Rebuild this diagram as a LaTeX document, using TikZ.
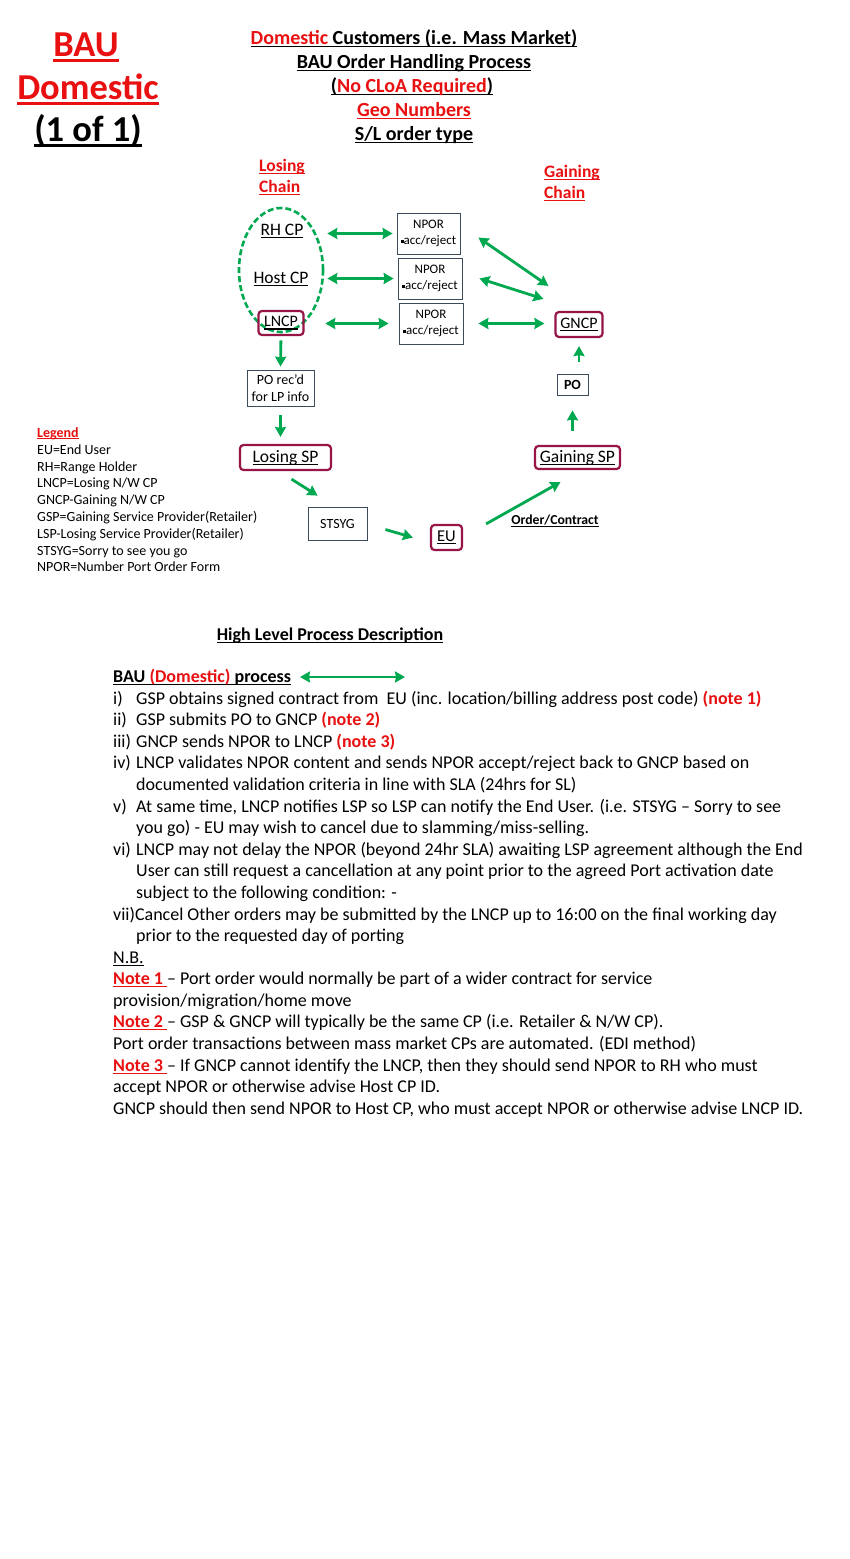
\documentclass[tikz,border=0pt]{standalone}
\usepackage{fontspec}
\setmainfont{Carlito}
\usetikzlibrary{arrows.meta}
\usetikzlibrary{shapes.geometric}
\usetikzlibrary{positioning}

\definecolor{bauRed}{RGB}{232,16,16}
\definecolor{bauGreen}{RGB}{0,168,80}
\definecolor{bauCrimson}{RGB}{150,20,70}
\definecolor{bauFrame}{RGB}{60,75,90}

\tikzset{
  tip/.style={-{Stealth[length=10pt,width=11pt,inset=1pt]}},
  link/.style={draw=bauGreen, line width=2.8pt, tip},
  twolink/.style={draw=bauGreen, line width=2.8pt, {Stealth[length=10pt,width=11pt,inset=1pt]}-{Stealth[length=10pt,width=11pt,inset=1pt]}},
  cpbox/.style={draw=bauCrimson, line width=2.2pt, rounded corners=3.5pt, inner sep=0pt, font=\fontsize{17.5}{19}\selectfont},
  npbox/.style={draw=bauFrame, line width=0.8pt, align=center, inner sep=0pt, font=\fontsize{13}{16.5}\selectfont},
  bodyline/.style={anchor=base west, inner sep=0pt, font=\fontsize{18}{21}\selectfont},
  legline/.style={anchor=base west, inner sep=0pt, font=\fontsize{14}{16}\selectfont},
  headline/.style={anchor=base, inner sep=0pt, font=\fontsize{20}{22}\selectfont\bfseries},
}
\newcommand{\sqbul}{\rule[0.3ex]{0.45ex}{0.45ex}}
\newcommand{\undl}[1]{\leavevmode\setbox0\hbox{#1}\rlap{\rule[-0.17em]{\wd0}{0.075em}}\box0}

\begin{document}
\begin{tikzpicture}[x=1pt,y=-1pt]
\useasboundingbox (0,0) rectangle (850,1559);
\fill[white] (0,0) rectangle (850,1559);

% title
\node[anchor=base, inner sep=0pt, font=\fontsize{36.5}{38}\selectfont\bfseries, text=bauRed] (tBau) at (86,56) {\undl{BAU}};
\node[anchor=base, inner sep=0pt, font=\fontsize{36.5}{38}\selectfont\bfseries, text=bauRed] (tDom) at (88,99) {\undl{Domestic}};
\node[anchor=base, inner sep=0pt, font=\fontsize{36.5}{38}\selectfont\bfseries] (tPage) at (88,141) {\undl{(1 of 1)}};

\node[headline] (h1) at (414,44) {\undl{\textcolor{bauRed}{Domestic} Customers (i.e. Mass Market)}};
\node[headline] (h2) at (414,68) {\undl{BAU Order Handling Process}};
\node[headline] (h3) at (412,92) {\undl{(\textcolor{bauRed}{No CLoA Required})}};
\node[headline, text=bauRed] (h4) at (414,116) {\undl{Geo Numbers}};
\node[headline] (h5) at (414,140) {\undl{S/L order type}};

\node[anchor=base west, inner sep=0pt, align=left, text=bauRed, font=\fontsize{17.5}{21}\selectfont\bfseries] (losing) at (259,192) {\undl{Losing}\\\undl{Chain}};
\node[anchor=base west, inner sep=0pt, align=left, text=bauRed, font=\fontsize{17.5}{21}\selectfont\bfseries] (gaining) at (544,198) {\undl{Gaining}\\\undl{Chain}};

% losing chain
\node[draw=bauGreen, ellipse, line width=2.6pt, dash pattern=on 6pt off 3pt, minimum width=84, minimum height=124, inner sep=0pt] (chain) at (281,270) {};
\node[inner sep=0pt, font=\fontsize{17.5}{19}\selectfont] (rh) at (282,231) {\undl{RH CP}};
\node[inner sep=0pt, font=\fontsize{17.5}{19}\selectfont] (host) at (281,279) {\undl{Host CP}};
\node[cpbox, minimum width=45, minimum height=24, font=\fontsize{16}{18}\selectfont] (lncp) at (281,323) {\undl{LNCP}};

\node[npbox, minimum width=63, minimum height=41] (np1) at (428.5,233.5) {NPOR\\\sqbul acc/reject};
\node[npbox, minimum width=64, minimum height=41] (np2) at (430,278.5) {NPOR\\\sqbul acc/reject};
\node[npbox, minimum width=64, minimum height=41] (np3) at (431,323.5) {NPOR\\\sqbul acc/reject};

\node[cpbox, minimum width=47, minimum height=25, font=\fontsize{16}{18}\selectfont] (gncp) at (579,324.5) {\undl{GNCP}};
\node[npbox, minimum width=31, minimum height=21, font=\fontsize{14}{16}\selectfont\bfseries] (po) at (572.5,384.5) {PO};
\node[cpbox, minimum width=85, minimum height=23] (gsp) at (577.5,457.5) {\undl{Gaining SP}};

\node[npbox, minimum width=67, minimum height=36, font=\fontsize{14}{17}\selectfont] (porec) at (280.5,388) {PO rec'd\\for LP info};
\node[cpbox, minimum width=91, minimum height=25] (lsp) at (285.5,457.5) {\undl{Losing SP}};
\node[npbox, minimum width=59, minimum height=33, font=\fontsize{14}{16}\selectfont] (stsyg) at (337.5,523.5) {STSYG};
\node[cpbox, minimum width=31, minimum height=25, font=\fontsize{16.5}{18}\selectfont] (eu) at (446.5,537.5) {\undl{EU}};
\node[inner sep=0pt, font=\fontsize{13.7}{15}\selectfont\bfseries] (order) at (555,521) {\undl{Order/Contract}};

% connectors
\draw[twolink, shorten <=3pt, shorten >=4pt] (np1.west -| chain.east) -- (np1.west);
\draw[twolink, shorten <=3pt, shorten >=4pt] (np2.west -| chain.east) -- (np2.west);
\draw[twolink, shorten <=1pt, shorten >=10pt] (np3.west -| chain.east) -- (np3.west);
\draw[twolink] ([xshift=18pt,yshift=-4pt]np1.east) -- ([shift={(-6,-25)}]gncp.north west);
\draw[twolink] ([xshift=17pt]np2.east) -- ([shift={(-11,-12)}]gncp.north west);
\draw[twolink, shorten <=15pt, shorten >=10pt] (np3.east) -- (np3.east -| gncp.west);
\draw[link, shorten <=7pt, shorten >=3pt] (chain.south) -- (porec.north);
\draw[link, shorten <=9pt, shorten >=7pt] (porec.south) -- (porec.south |- lsp.north);
\draw[link] ([shift={(6,8)}]lsp.south) -- ([shift={(10,-11)}]stsyg.north west);
\draw[link] ([shift={(18,6)}]stsyg.east) -- ([shift={(-17,0)}]eu.west);
\draw[link] ([xshift=23pt]eu.north east) -- ([shift={(-17,12)}]gsp.south);
\draw[link, shorten <=14pt, shorten >=15pt] (gsp.north -| po.south) -- (po.south);
\draw[link, shorten <=12pt, shorten >=8pt] (po.north -| gncp.south) -- (gncp.south);

% legend
\node[legline, text=bauRed, font=\fontsize{14}{16}\selectfont\bfseries] (leg0) at (37,437) {\undl{Legend}};
\node[legline] (leg1) at (37,454) {EU=End User};
\node[legline] (leg2) at (37,471) {RH=Range Holder};
\node[legline] (leg3) at (37,487) {LNCP=Losing N/W CP};
\node[legline] (leg4) at (37,504) {GNCP-Gaining N/W CP};
\node[legline] (leg5) at (37,521) {GSP=Gaining Service Provider(Retailer)};
\node[legline] (leg6) at (37,538) {LSP-Losing Service Provider(Retailer)};
\node[legline] (leg7) at (37,555) {STSYG=Sorry to see you go};
\node[legline] (leg8) at (37,571) {NPOR=Number Port Order Form};

% process description
\node[anchor=base, inner sep=0pt, font=\fontsize{18}{20}\selectfont\bfseries] (hld) at (330,640) {\undl{High Level Process Description}};
\node[bodyline, font=\fontsize{18}{21}\selectfont\bfseries] (bau) at (113,682) {\undl{BAU \textcolor{bauRed}{(Domestic)} process}};
\coordinate (bauL) at (300,677);
\coordinate (bauR) at (405,677);
\draw[twolink] (bauL) -- (bauR);

\node[bodyline] (s1) at (113,704) {\makebox[23pt][l]{i)}GSP obtains signed contract from~ EU (inc. location/billing address post code) \textcolor{bauRed}{\textbf{(note 1)}}};
\node[bodyline] (s2) at (113,725) {\makebox[23pt][l]{ii)}GSP submits PO to GNCP \textcolor{bauRed}{\textbf{(note 2)}}};
\node[bodyline] (s3) at (113,747) {\makebox[23pt][l]{iii)}GNCP sends NPOR to LNCP \textcolor{bauRed}{\textbf{(note 3)}}};
\node[bodyline] (s4) at (113,768) {\makebox[23pt][l]{iv)}LNCP validates NPOR content and sends NPOR accept/reject back to GNCP based on};
\node[bodyline] (s4b) at (136,790) {documented validation criteria in line with SLA (24hrs for SL)};
\node[bodyline] (s5) at (113,812) {\makebox[23pt][l]{v)}At same time, LNCP notifies LSP so LSP can notify the End User. (i.e. STSYG -- Sorry to see};
\node[bodyline] (s5b) at (136,833) {you go) - EU may wish to cancel due to slamming/miss-selling.};
\node[bodyline] (s6) at (113,855) {\makebox[23pt][l]{vi)}LNCP may not delay the NPOR (beyond 24hr SLA) awaiting LSP agreement although the End};
\node[bodyline] (s6b) at (136,876) {User can still request a cancellation at any point prior to the agreed Port activation date};
\node[bodyline] (s6c) at (136,898) {subject to the following condition: -};
\node[bodyline] (s7) at (113,920) {vii)Cancel Other orders may be submitted by the LNCP up to 16:00 on the final working day};
\node[bodyline] (s7b) at (136,941) {prior to the requested day of porting};
\node[bodyline] (nb) at (113,963) {\undl{N.B.}};
\node[bodyline] (n1) at (113,984) {\textcolor{bauRed}{\textbf{\undl{Note 1 }}}-- Port order would normally be part of a wider contract for service};
\node[bodyline] (n1b) at (113,1006) {provision/migration/home move};
\node[bodyline] (n2) at (113,1027) {\textcolor{bauRed}{\textbf{\undl{Note 2 }}}-- GSP \& GNCP will typically be the same CP (i.e. Retailer \& N/W CP).};
\node[bodyline] (n2b) at (113,1049) {Port order transactions between mass market CPs are automated. (EDI method)};
\node[bodyline] (n3) at (113,1071) {\textcolor{bauRed}{\textbf{\undl{Note 3 }}}-- If GNCP cannot identify the LNCP, then they should send NPOR to RH who must};
\node[bodyline] (n3b) at (113,1092) {accept NPOR or otherwise advise Host CP ID.};
\node[bodyline] (n3c) at (113,1114) {GNCP should then send NPOR to Host CP, who must accept NPOR or otherwise advise LNCP ID.};
\end{tikzpicture}
\end{document}
